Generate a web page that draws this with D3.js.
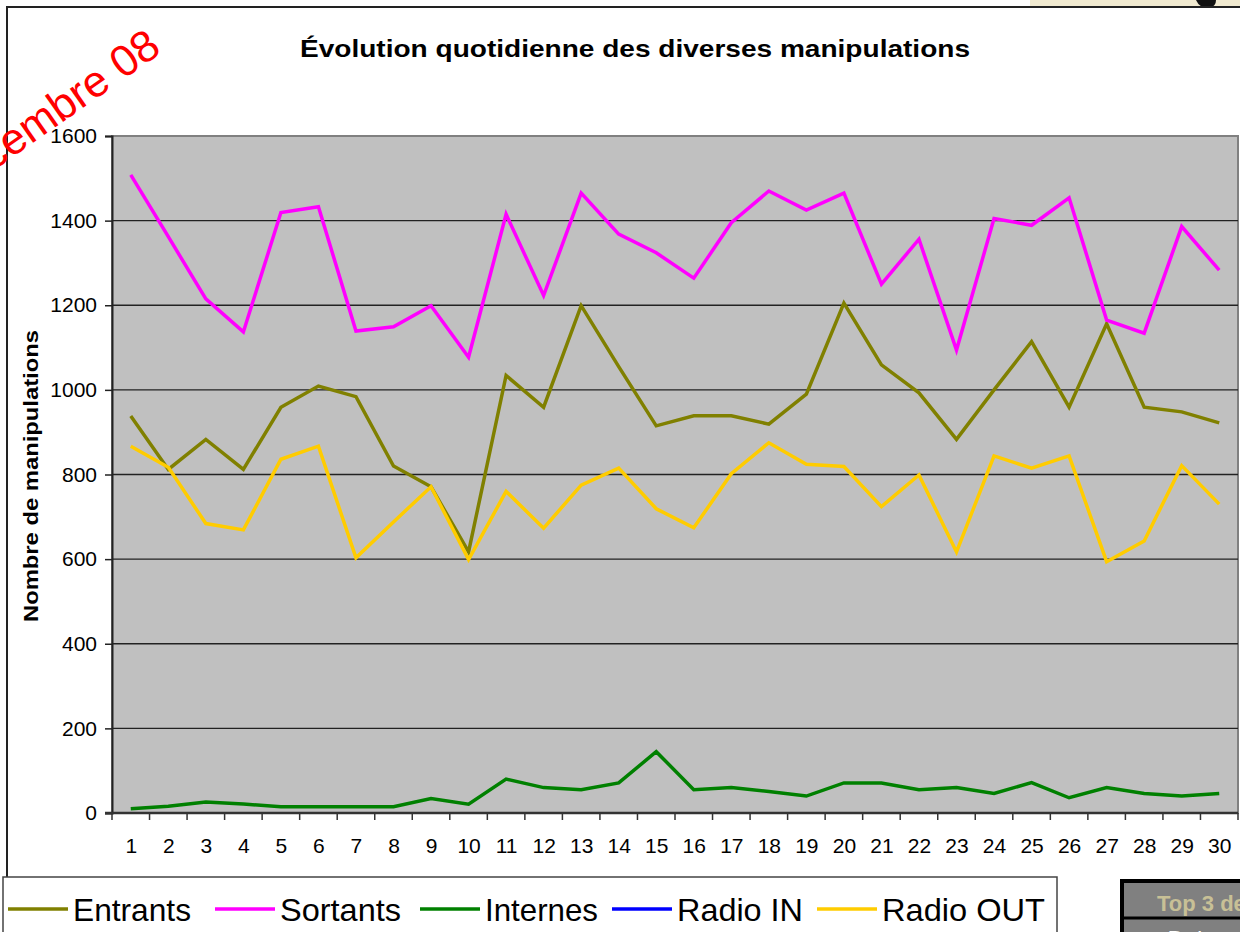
<!DOCTYPE html>
<html>
<head>
<meta charset="utf-8">
<script src="https://cdn.jsdelivr.net/npm/d3@7/dist/d3.min.js"></script>
<style>
    html, body { margin: 0; padding: 0; background: #fff; }
    svg { display: block; font-family: Arial, "Liberation Sans", sans-serif; }
</style>
</head>
<body>
<svg id="chart" width="1240" height="932"></svg>
<script>
// ---- data ----
var days = d3.range(1, 31);
var entrants = [938, 812, 883, 812, 959, 1009, 984, 820, 771, 617,
                1034, 959, 1199, 1055, 915, 939, 939, 919, 990, 1205,
                1059, 993, 883, 1000, 1114, 959, 1156, 959, 948, 922];
var sortants = [1508, 1362, 1215, 1137, 1419, 1433, 1139, 1149, 1199, 1077,
                1415, 1223, 1465, 1368, 1324, 1264, 1395, 1470, 1425, 1465,
                1250, 1356, 1094, 1405, 1389, 1454, 1165, 1134, 1386, 1283];
var internes = [10, 16, 26, 21, 15, 15, 15, 15, 34, 21,
                80, 60, 55, 71, 145, 55, 60, 51, 40, 71,
                71, 55, 60, 46, 72, 36, 60, 46, 40, 46];
var radioIn = [];
var radioOut = [867, 817, 684, 669, 836, 867, 603, 688, 771, 599,
                760, 673, 775, 815, 719, 674, 802, 875, 824, 819,
                724, 799, 617, 844, 815, 844, 594, 643, 821, 730];
var yTicks = [0, 200, 400, 600, 800, 1000, 1200, 1400, 1600];

var series = [
    { name: 'Entrants', values: entrants, color: '#808000' },
    { name: 'Sortants', values: sortants, color: '#ff00ff' },
    { name: 'Internes', values: internes, color: '#008000' },
    { name: 'Radio IN', values: radioIn, color: '#0000ff' },
    { name: 'Radio OUT', values: radioOut, color: '#ffcc00' }
];

(function () {
    'use strict';

    var svg = d3.select('#chart');
    var plot = { left: 112, right: 1238, top: 136, bottom: 813 };

    // outer frame and the scrap of picture in the top-right corner
    svg.append('rect').attr('x', 1030).attr('y', 0).attr('width', 210).attr('height', 6)
        .attr('fill', '#f1ead0');
    svg.append('path').attr('d', 'M1196,0 Q1200,9 1210,8 Q1216,6 1216,0 Z').attr('fill', '#111');
    svg.append('path').attr('d', 'M7,877 L7,7 L1240,7')
        .attr('fill', 'none').attr('stroke', '#222').attr('stroke-width', 2);

    var x = d3.scalePoint().domain(days).range([plot.left, plot.right]).padding(0.5);
    var step = x.step();
    var y = d3.scaleLinear().domain([0, 1600]).range([plot.bottom, plot.top]);

    svg.append('rect')
        .attr('x', plot.left).attr('y', plot.top)
        .attr('width', plot.right - plot.left).attr('height', plot.bottom - plot.top)
        .attr('fill', '#c0c0c0').attr('stroke', '#808080').attr('stroke-width', 2);

    // gridlines
    svg.append('g').selectAll('line').data(yTicks.slice(1, -1)).join('line')
        .attr('x1', plot.left).attr('x2', plot.right)
        .attr('y1', function (d) { return y(d); }).attr('y2', function (d) { return y(d); })
        .attr('stroke', '#222').attr('stroke-width', 1.3);

    // y axis
    var yAxis = svg.append('g').attr('transform', 'translate(' + plot.left + ',0)')
        .call(d3.axisLeft(y).tickValues(yTicks).tickSize(7).tickPadding(8).tickFormat(d3.format('d')));
    yAxis.select('.domain').attr('stroke', '#222').attr('stroke-width', 2);
    yAxis.selectAll('.tick line').attr('stroke', '#222').attr('stroke-width', 1.5);
    yAxis.selectAll('text').attr('font-size', 21).attr('fill', '#000')
        .attr('font-family', 'Arial, "Liberation Sans", sans-serif');

    // x axis: labels centred, ticks on category boundaries
    var xAxis = svg.append('g').attr('transform', 'translate(0,' + plot.bottom + ')')
        .call(d3.axisBottom(x).tickSize(0).tickPadding(25));
    xAxis.select('.domain').remove();
    xAxis.selectAll('text').attr('font-size', 21).attr('fill', '#000')
        .attr('font-family', 'Arial, "Liberation Sans", sans-serif');
    svg.append('g').selectAll('line').data(d3.range(0, 31)).join('line')
        .attr('x1', function (i) { return plot.left + i * step; })
        .attr('x2', function (i) { return plot.left + i * step; })
        .attr('y1', plot.bottom).attr('y2', plot.bottom + 7)
        .attr('stroke', '#333').attr('stroke-width', 1.5);
    svg.append('line').attr('x1', plot.left - 7).attr('x2', plot.right)
        .attr('y1', plot.bottom).attr('y2', plot.bottom)
        .attr('stroke', '#333').attr('stroke-width', 2.5);

    // series lines
    var line = d3.line()
        .x(function (d, i) { return x(days[i]); })
        .y(function (d) { return y(d); });
    svg.append('g').selectAll('path').data(series.filter(function (s) { return s.values.length; }))
        .join('path')
        .attr('d', function (s) { return line(s.values); })
        .attr('fill', 'none')
        .attr('stroke', function (s) { return s.color; })
        .attr('stroke-width', 3.5)
        .attr('stroke-linejoin', 'miter');

    // titles
    svg.append('text').attr('x', 300).attr('y', 57)
        .attr('font-size', 23).attr('font-weight', 'bold')
        .attr('textLength', 670).attr('lengthAdjust', 'spacingAndGlyphs')
        .text('Évolution quotidienne des diverses manipulations');
    svg.append('text').attr('transform', 'translate(38,622) rotate(-90)')
        .attr('font-size', 21).attr('font-weight', 'bold')
        .attr('textLength', 292).attr('lengthAdjust', 'spacingAndGlyphs')
        .text('Nombre de manipulations');

    // red stamp
    svg.append('text').attr('transform', 'translate(163,52) rotate(-35)')
        .attr('text-anchor', 'end').attr('font-size', 44).attr('fill', '#ff0000')
        .text('Décembre 08');

    // legend
    var legend = svg.append('g');
    legend.append('rect').attr('x', 3).attr('y', 877).attr('width', 1054).attr('height', 70)
        .attr('fill', '#fff').attr('stroke', '#444').attr('stroke-width', 1.5);
    var legendX = [8, 215, 420, 612, 817];
    var legendW = [118, 121, 113, 126, 163];
    var item = legend.selectAll('g.item').data(series).join('g')
        .attr('class', 'item')
        .attr('transform', function (s, i) { return 'translate(' + legendX[i] + ',909)'; });
    item.append('line').attr('x1', 0).attr('x2', 60).attr('y1', 0).attr('y2', 0)
        .attr('stroke', function (s) { return s.color; }).attr('stroke-width', 3.5);
    item.append('text').attr('x', 65).attr('y', 12)
        .attr('font-size', 32)
        .attr('textLength', function (s, i) { return legendW[i]; })
        .attr('lengthAdjust', 'spacingAndGlyphs')
        .text(function (s) { return s.name; });

    // corner of the table on the right
    var table = svg.append('g');
    table.append('rect').attr('x', 1122).attr('y', 881).attr('width', 130).attr('height', 70)
        .attr('fill', '#808080').attr('stroke', '#000').attr('stroke-width', 4);
    table.append('line').attr('x1', 1122).attr('x2', 1240).attr('y1', 918).attr('y2', 918)
        .attr('stroke', '#000').attr('stroke-width', 3);
    table.append('text').attr('x', 1157).attr('y', 911).attr('font-size', 22)
        .attr('font-weight', 'bold').attr('fill', '#c8c096').text('Top 3 des jours');
    table.append('text').attr('x', 1168).attr('y', 946).attr('font-size', 22)
        .attr('font-weight', 'bold').attr('fill', '#fff').text('Date');
})();
</script>
</body>
</html>
